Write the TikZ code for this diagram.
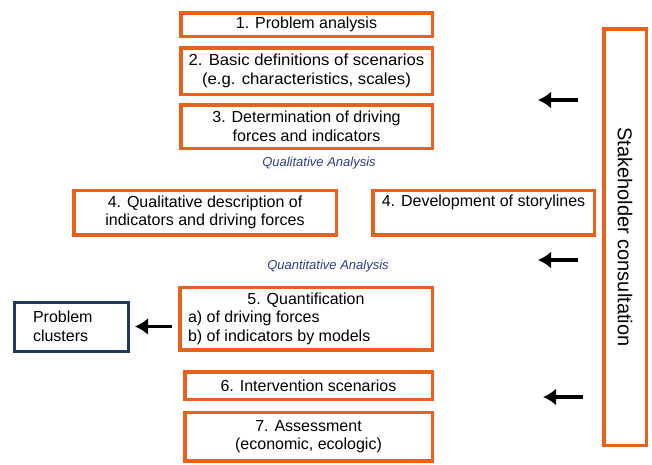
\documentclass[tikz,border=0pt]{standalone}
\usepackage{fontspec}
\setmainfont{Liberation Sans}
\newfontfamily\widefont[FakeStretch=1.045]{Liberation Sans}
\usepackage{xcolor}
\usetikzlibrary{arrows.meta,positioning,calc}
\definecolor{stepor}{HTML}{E8621C}
\definecolor{navy}{HTML}{1B3A5E}
\definecolor{anablue}{HTML}{2E3C8C}
\tikzset{
	stepbox/.style={draw=stepor,line width=3.5pt,rectangle,align=center,inner sep=0pt,font=\fontsize{16}{18.5}\selectfont},
	phase/.style={font=\fontsize{13}{15}\selectfont\itshape,text=anablue},
	flowarrow/.style={-{Latex[length=13pt,width=17pt]},line width=3.5pt,black}
}
\begin{document}
\begin{tikzpicture}[x=1pt,y=-1pt]
		\useasboundingbox (0,0) rectangle (652,464);
		% main steps
		\node[stepbox,minimum width=251.5pt,minimum height=23.5pt] (s1) at (306.5,24.5) {1. Problem analysis};
		\node[stepbox,minimum width=251.5pt,minimum height=46.5pt,font=\fontsize{16}{18.5}\widefont] (s2) at (306.5,71) {2. Basic definitions of scenarios\\(e.g. characteristics, scales)};
		\node[stepbox,minimum width=251.5pt,minimum height=43.5pt] (s3) at (306.5,126.5) {3. Determination of driving\\forces and indicators};
		\node[phase] (qual) at (319,163) {Qualitative Analysis};
		\node[stepbox,minimum width=262.5pt,minimum height=44.5pt] (s4a) at (205,212.5) {4. Qualitative description of\\indicators and driving forces};
		\node[stepbox,minimum width=221.5pt,minimum height=44.5pt] (s4b) at (483.5,212.5) {4. Development of storylines\\\strut};
		\node[phase] (quan) at (328,266) {Quantitative Analysis};
		\node[stepbox,minimum width=252.5pt,minimum height=62.5pt,align=left] (s5) at (306,318.5) {\makebox[236pt]{5. Quantification}\\a) of driving forces\\b) of indicators by models};
		\node[stepbox,minimum width=247.5pt,minimum height=27.5pt] (s6) at (308.5,385.5) {6. Intervention scenarios};
		\node[stepbox,minimum width=247.5pt,minimum height=48.5pt] (s7) at (308.5,436.5) {7. Assessment\\(economic, ecologic)};
		% side boxes
		\node[stepbox,draw=navy,line width=3pt,minimum width=114pt,minimum height=49pt,align=left,text width=77pt] (pc) at (71.5,326.5) {Problem\\clusters};
		\node[stepbox,minimum width=42.5pt,minimum height=416.5pt] (sh) at (625,237) {};
		\node[rotate=-90,font=\fontsize{20}{24}\selectfont] (shtext) at (sh.center) {Stakeholder consultation};
		% arrows
		\coordinate (a1s) at (578,100);
		\coordinate (a1e) at (538,100);
		\coordinate (a2s) at (578,260);
		\coordinate (a2e) at (538,260);
		\coordinate (a3s) at (583,397);
		\coordinate (a3e) at (543,397);
		\draw[flowarrow] (a1s) -- (a1e);
		\draw[flowarrow] (a2s) -- (a2e);
		\draw[flowarrow] (a3s) -- (a3e);
		\draw[flowarrow] ($(s5.west |- pc.east)+(-6,0)$) -- ([xshift=5pt]pc.east);
	\end{tikzpicture}
\end{document}
